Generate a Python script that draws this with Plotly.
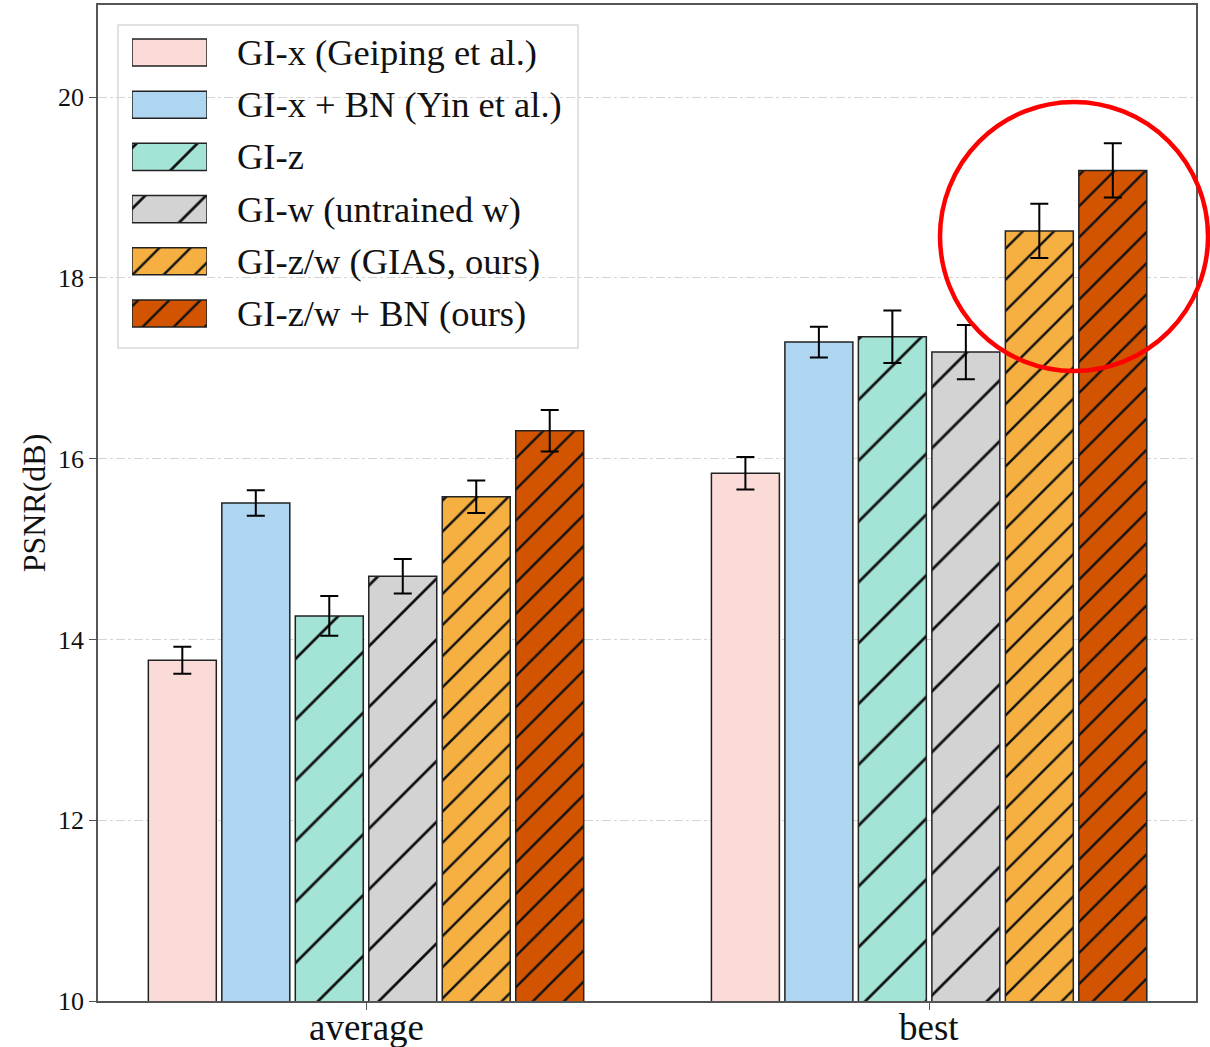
import plotly.graph_objects as go

categories = ["average", "best"]
series_names = [
    "GI-x (Geiping et al.)",
    "GI-x + BN (Yin et al.)",
    "GI-z",
    "GI-w (untrained w)",
    "GI-z/w (GIAS, ours)",
    "GI-z/w + BN (ours)",
]
values = [
    [13.77, 15.84],
    [15.51, 17.29],
    [14.26, 17.35],
    [14.70, 17.18],
    [15.58, 18.52],
    [16.31, 19.19],
]
errors = [
    [0.15, 0.18],
    [0.14, 0.17],
    [0.22, 0.29],
    [0.19, 0.30],
    [0.18, 0.30],
    [0.23, 0.30],
]
colors = ["#fadbd8", "#aed6f1", "#a3e4d7", "#d3d3d3", "#f5b041", "#d35400"]
hatches = ["", "", "/", "/", "/", "/"]
hatch_sizes = [10, 10, 43, 43, 22, 22]
hatch_solidity = [0.1, 0.1, 0.065, 0.065, 0.11, 0.11]
y_ticks = [10, 12, 14, 16, 18, 20]

FONT = "Liberation Serif"
W, H = 1210, 1047
ML, MR, MT, MB = 98, 14, 5, 46
PW = W - ML - MR
PH = H - MT - MB

def px_x(x):
    return (x - ML) / PW

def px_y(y):
    return (H - MB - y) / PH

fig = go.Figure()

def pattern(i):
    return dict(shape=hatches[i], fgcolor="#111111", bgcolor=colors[i],
                size=hatch_sizes[i], solidity=hatch_solidity[i], fillmode="replace")

for i, name in enumerate(series_names):
    fig.add_trace(go.Bar(
        x=categories, y=values[i], name=name,
        marker=dict(color=colors[i], line=dict(color="#222222", width=1.5), pattern=pattern(i)),
        error_y=dict(type="data", array=errors[i], color="black", thickness=2, width=9),
        showlegend=False,
    ))

# custom legend patches on a helper axis pair
for i, name in enumerate(series_names):
    fig.add_trace(go.Bar(
        x=[1], y=[i], base=[0], orientation="h", width=0.52,
        marker=dict(color=colors[i], line=dict(color="#222222", width=1.5), pattern=pattern(i)),
        xaxis="x2", yaxis="y2", showlegend=False, hoverinfo="skip",
    ))

row_top = 52.5
row_step = 52.2
y_top = px_y(row_top) + 0.5 * row_step / PH
y_bot = px_y(row_top + 5 * row_step) - 0.5 * row_step / PH

annotations = []
for i, name in enumerate(series_names):
    annotations.append(dict(
        xref="paper", yref="paper", x=px_x(235), y=px_y(row_top + i * row_step),
        text=name, showarrow=False, xanchor="left", yanchor="middle",
        font=dict(family=FONT, size=36.5, color="#111111"),
    ))
# category labels under the x axis
for cat in categories:
    annotations.append(dict(
        xref="x", yref="paper", x=cat, y=0, yanchor="top", yshift=-4,
        text=cat, showarrow=False,
        font=dict(family=FONT, size=37, color="#111111"),
    ))

shapes = [
    dict(type="rect", xref="paper", yref="paper",
         x0=px_x(118), x1=px_x(578), y0=px_y(348), y1=px_y(25),
         line=dict(color="#d9d9d9", width=1.5), fillcolor="white", layer="below"),
    dict(type="circle", xref="paper", yref="paper",
         x0=px_x(940), x1=px_x(1208), y0=px_y(371), y1=px_y(102),
         line=dict(color="#ff0000", width=4.5), layer="above"),
]

fig.update_layout(
    width=W, height=H,
    margin=dict(l=ML, r=MR, t=MT, b=MB),
    paper_bgcolor="white", plot_bgcolor="white",
    barmode="group", bargap=0.217, bargroupgap=0.075,
    font=dict(family=FONT, color="#111111"),
    xaxis=dict(
        type="category", range=[-0.476, 1.474], automargin=False,
        showline=True, mirror=True, linecolor="#555555", linewidth=1.8,
        ticks="outside", ticklen=7, tickcolor="#555555",
        showticklabels=False, showgrid=False,
    ),
    yaxis=dict(
        range=[10, 21.02], tickvals=y_ticks, automargin=False,
        showline=True, mirror=True, linecolor="#555555", linewidth=1.8,
        ticks="outside", ticklen=7, tickcolor="#555555",
        tickfont=dict(family=FONT, size=26),
        showgrid=True, gridcolor="#d4d4d4", gridwidth=1, griddash="dashdot",
        zeroline=False,
        title=dict(text="PSNR(dB)", font=dict(family=FONT, size=32), standoff=3),
    ),
    xaxis2=dict(domain=[px_x(132), px_x(207)], range=[0, 1], visible=False,
                anchor="y2", fixedrange=True),
    yaxis2=dict(domain=[y_bot, y_top], range=[5.5, -0.5], visible=False,
                anchor="x2", fixedrange=True),
    shapes=shapes,
    annotations=annotations,
)

fig.write_html("out.html")
